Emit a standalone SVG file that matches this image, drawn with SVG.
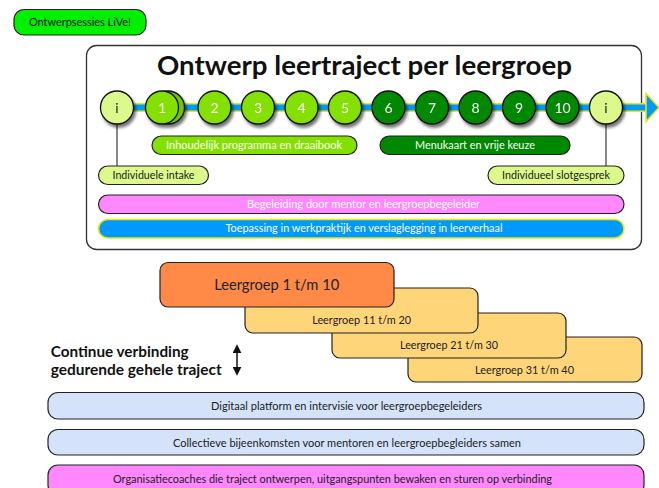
<svg xmlns="http://www.w3.org/2000/svg" width="659" height="488" viewBox="0 0 659 488">
<defs>
<style>
text{font-family:Lato,"Liberation Sans",sans-serif}
.pill{stroke:#222;stroke-width:1.2}
.lime{fill:#84e000}
.dark{fill:#008800}
.pale{fill:#dcfa8c}
.w{fill:#fff}
.k{fill:#222}
.c{stroke:#111;stroke-width:1.3}
.num{font-size:14px;text-anchor:middle;fill:#fff}
.bt{font-size:10.5px;text-anchor:middle}
.box{stroke:#222;stroke-width:1.2}
</style>
<filter id="sh" x="-40%" y="-40%" width="180%" height="180%">
<feDropShadow dx="2" dy="3" stdDeviation="1.8" flood-color="#000" flood-opacity="0.55"/>
</filter>
<marker id="ah" viewBox="0 0 10 10" refX="8" refY="5" markerWidth="6" markerHeight="6" orient="auto-start-reverse">
<path d="M0,0 L10,5 L0,10 z" fill="#111"/>
</marker>
</defs>

<g id="live">
<rect x="14" y="9.5" width="132" height="25.5" rx="10" fill="#00f000" class="pill"/>
<text x="80" y="26" font-size="10.5" text-anchor="middle" fill="#111" textLength="102" lengthAdjust="spacingAndGlyphs">Ontwerpsessies LiVe!</text>
</g>

<g id="mainbox">
<rect x="86.5" y="45.5" width="555" height="204" rx="10" fill="#fff" stroke="#333" stroke-width="1.3"/>
<text x="364.5" y="75" font-size="26" font-weight="bold" text-anchor="middle" fill="#111" textLength="415" lengthAdjust="spacingAndGlyphs">Ontwerp leertraject per leergroep</text>
</g>

<g id="connectors">
<line x1="117" y1="107.5" x2="648" y2="107.5" stroke="#f2e600" stroke-width="9"/>
<line x1="117" y1="107.5" x2="648" y2="107.5" stroke="#0099ff" stroke-width="6"/>
<polygon points="646,93.5 659,107.5 646,121.5" fill="#0099ff" stroke="#f2e600" stroke-width="1.5"/>
<line x1="117" y1="120" x2="117" y2="166" stroke="#111" stroke-width="1"/>
<line x1="606" y1="120" x2="606" y2="166" stroke="#111" stroke-width="1"/>
<line x1="237" y1="346" x2="237" y2="374" stroke="#111" stroke-width="1.5" marker-start="url(#ah)" marker-end="url(#ah)"/>
</g>

<g id="circles" filter="url(#sh)">
<g id="c-i1"><circle cx="117" cy="107.5" r="16.5" class="pale c"/><text x="117" y="112.5" class="num" fill="#222" style="fill:#222">i</text></g>
<g id="c-1"><circle cx="168" cy="107.5" r="16.5" fill="#6fc400" class="c"/><circle cx="162" cy="107.5" r="16.5" class="lime c"/><text x="162" y="112.5" class="num">1</text></g>
<g id="c-2"><circle cx="214.5" cy="107.5" r="16.5" class="lime c"/><text x="214.5" y="112.5" class="num">2</text></g>
<g id="c-3"><circle cx="258" cy="107.5" r="16.5" class="lime c"/><text x="258" y="112.5" class="num">3</text></g>
<g id="c-4"><circle cx="301.5" cy="107.5" r="16.5" class="lime c"/><text x="301.5" y="112.5" class="num">4</text></g>
<g id="c-5"><circle cx="345" cy="107.5" r="16.5" class="lime c"/><text x="345" y="112.5" class="num">5</text></g>
<g id="c-6"><circle cx="388.5" cy="107.5" r="16.5" class="dark c"/><text x="388.5" y="112.5" class="num">6</text></g>
<g id="c-7"><circle cx="432" cy="107.5" r="16.5" class="dark c"/><text x="432" y="112.5" class="num">7</text></g>
<g id="c-8"><circle cx="475.5" cy="107.5" r="16.5" class="dark c"/><text x="475.5" y="112.5" class="num">8</text></g>
<g id="c-9"><circle cx="519" cy="107.5" r="16.5" class="dark c"/><text x="519" y="112.5" class="num">9</text></g>
<g id="c-10"><circle cx="562.5" cy="107.5" r="16.5" class="dark c"/><text x="562.5" y="112.5" class="num">10</text></g>
<g id="c-i2"><circle cx="606" cy="107.5" r="16.5" class="pale c"/><text x="606" y="112.5" class="num" style="fill:#222">i</text></g>
</g>

<g id="inhoud">
<rect x="152" y="136" width="205" height="18.5" rx="9.25" class="lime pill"/>
<text x="254" y="148.8" class="bt w" textLength="176" lengthAdjust="spacingAndGlyphs">Inhoudelijk programma en draaibook</text>
</g>
<g id="menu">
<rect x="380" y="136" width="190" height="18.5" rx="9.25" class="dark pill"/>
<text x="475" y="148.8" class="bt w" textLength="120" lengthAdjust="spacingAndGlyphs">Menukaart en vrije keuze</text>
</g>
<g id="intake">
<rect x="98.5" y="166" width="110" height="18.5" rx="9.25" class="pale pill"/>
<text x="153.5" y="179" class="bt k" textLength="82" lengthAdjust="spacingAndGlyphs">Individuele intake</text>
</g>
<g id="slot">
<rect x="488" y="166" width="136" height="18.5" rx="9.25" class="pale pill"/>
<text x="556" y="179" class="bt k" textLength="108" lengthAdjust="spacingAndGlyphs">Individueel slotgesprek</text>
</g>
<g id="begeleiding">
<rect x="98.5" y="195" width="525.5" height="18.5" rx="9.25" fill="#ff88ff" class="pill"/>
<text x="363.5" y="208" class="bt w" textLength="233" lengthAdjust="spacingAndGlyphs">Begeleiding door mentor en leergroepbegeleider</text>
</g>
<g id="toepassing">
<rect x="98.5" y="219.5" width="525.5" height="18.5" rx="9.25" fill="#0099ff" stroke="#f2e600" stroke-width="1.6"/>
<text x="364" y="232.3" class="bt w" textLength="277" lengthAdjust="spacingAndGlyphs">Toepassing in werkpraktijk en verslaglegging in leerverhaal</text>
</g>

<g id="lg31">
<rect x="408" y="337" width="234" height="45" rx="8" fill="#ffd57a" class="box"/>
<text x="524.5" y="374" font-size="11" text-anchor="middle" fill="#222" textLength="99" lengthAdjust="spacingAndGlyphs">Leergroep 31 t/m 40</text>
</g>
<g id="lg21">
<rect x="332" y="313" width="234" height="45" rx="8" fill="#ffd57a" class="box"/>
<text x="449" y="349" font-size="11" text-anchor="middle" fill="#222" textLength="98" lengthAdjust="spacingAndGlyphs">Leergroep 21 t/m 30</text>
</g>
<g id="lg11">
<rect x="245" y="288" width="233" height="45" rx="8" fill="#ffd57a" class="box"/>
<text x="361.7" y="324" font-size="11" text-anchor="middle" fill="#222" textLength="99" lengthAdjust="spacingAndGlyphs">Leergroep 11 t/m 20</text>
</g>
<g id="lg1">
<rect x="160" y="262.5" width="234" height="44.5" rx="8" fill="#ff8a48" class="box"/>
<text x="276.7" y="290" font-size="15.5" text-anchor="middle" fill="#222" textLength="125" lengthAdjust="spacingAndGlyphs">Leergroep 1 t/m 10</text>
</g>

<g id="continue">
<text x="50.7" y="356.5" font-size="15.5" font-weight="bold" fill="#111" textLength="138" lengthAdjust="spacingAndGlyphs">Continue verbinding</text>
<text x="50.7" y="374.5" font-size="15.5" font-weight="bold" fill="#111" textLength="171" lengthAdjust="spacingAndGlyphs">gedurende gehele traject</text>
</g>

<g id="digitaal">
<rect x="48" y="392.5" width="596" height="26.5" rx="10" fill="#d4e2fa" class="box"/>
<text x="346.5" y="410" font-size="11" text-anchor="middle" fill="#222" textLength="271" lengthAdjust="spacingAndGlyphs">Digitaal platform en intervisie voor leergroepbegeleiders</text>
</g>
<g id="collectief">
<rect x="48" y="429.5" width="596" height="25.5" rx="10" fill="#d4e2fa" class="box"/>
<text x="347" y="446.5" font-size="11" text-anchor="middle" fill="#222" textLength="348" lengthAdjust="spacingAndGlyphs">Collectieve bijeenkomsten voor mentoren en leergroepbegleiders samen</text>
</g>
<g id="organisatie">
<rect x="48" y="465" width="596" height="30" rx="10" fill="#ff88ff" class="box"/>
<text x="332.5" y="482.5" font-size="11" text-anchor="middle" fill="#222" textLength="439" lengthAdjust="spacingAndGlyphs">Organisatiecoaches die traject ontwerpen, uitgangspunten bewaken en sturen op verbinding</text>
</g>
</svg>
